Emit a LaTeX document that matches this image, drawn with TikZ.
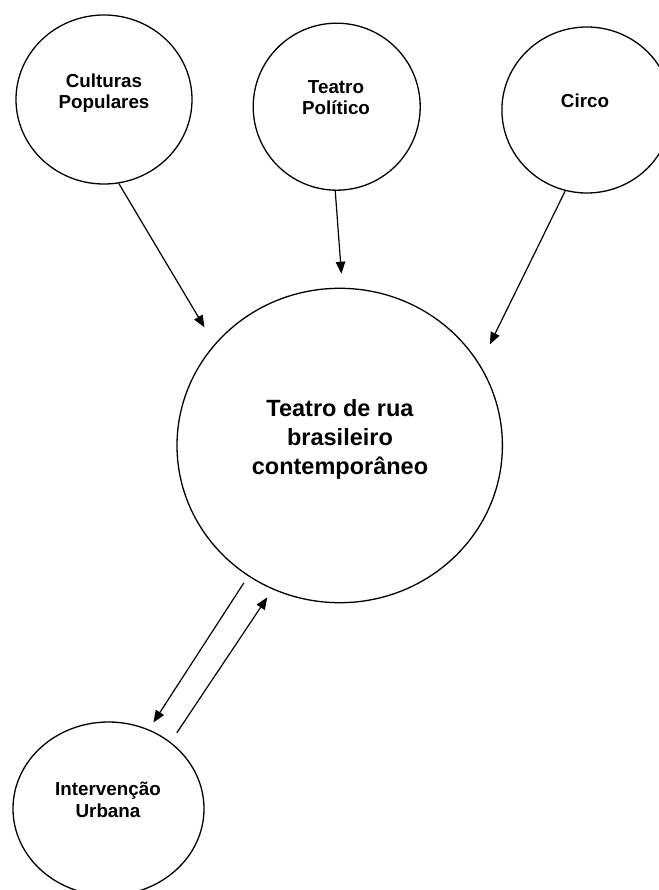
\documentclass[tikz,border=0pt]{standalone}
\usepackage{fontspec}
\setmainfont{Liberation Sans}
\usetikzlibrary{shapes.geometric,arrows.meta}
\begin{document}
\begin{tikzpicture}[x=1pt,y=-1pt,
  bubble/.style={ellipse,draw,line width=1.3pt,inner sep=0pt},
  lbl/.style={align=center,inner sep=0pt,font=\bfseries\fontsize{18.8}{21.5}\selectfont},
  biglbl/.style={align=center,inner sep=0pt,font=\bfseries\fontsize{23.5}{28.8}\selectfont},
  arr/.style={line width=1.2pt,-{Triangle[length=12pt,width=9.5pt]}}]
\useasboundingbox (0,0) rectangle (658,890);
\fill[white] (0,0) rectangle (658,890);
% bubbles
\node[bubble,minimum width=176pt,minimum height=169pt] (cp) at (104,99.5) {};
\node[bubble,minimum width=167pt,minimum height=167pt] (tp) at (336.7,106.7) {};
\node[bubble,minimum width=170pt,minimum height=166pt] (ci) at (586.9,110) {};
\node[bubble,minimum width=325.4pt,minimum height=314.4pt] (big) at (339.7,445.5) {};
\node[bubble,minimum width=191pt,minimum height=173.4pt] (iu) at (108.5,808.7) {};
% labels
\node[lbl] (cpl) at (104,93) {Culturas\\Populares};
\node[lbl] (tpl) at (336,97.5) {Teatro\\Político};
\node[lbl] (cil) at (585,101.2) {Circo};
\node[lbl] (iul) at (108,800) {Intervenção\\Urbana};
\node[biglbl] (bigl) at (340,439.7) {Teatro de rua\\brasileiro\\contemporâneo};
% connectors
\draw[arr,shorten >=19.5pt] (cp.-80) -- (big.141.6);
\draw[arr,shorten >=14pt] (tp.-91.9) -- (big.89.5);
\draw[arr,shorten >=22.5pt] (ci.-105.8) -- (big.30.3);
\draw[arr,shorten <=8pt,shorten >=8.3pt] (big.-125.15) -- (iu.63.1);
\draw[arr,shorten <=11.2pt,shorten >=9.5pt] (iu.47.2) -- (big.-115.65);
\end{tikzpicture}
\end{document}
